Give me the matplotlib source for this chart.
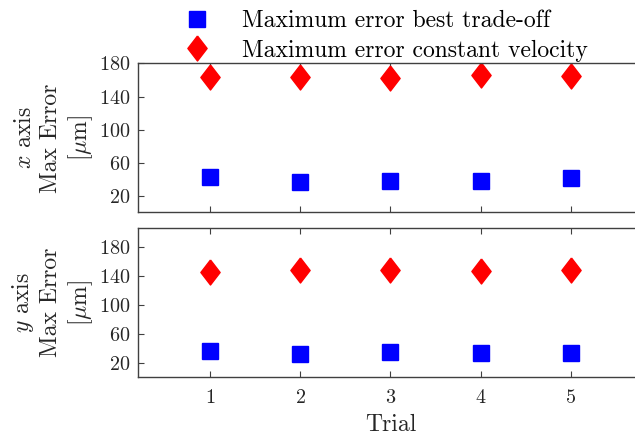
import numpy as np
import matplotlib
matplotlib.use("Agg")
import matplotlib.pyplot as plt

plt.rcParams['font.family'] = 'cmr10'
plt.rcParams['mathtext.fontset'] = 'cm'
plt.rcParams['axes.formatter.use_mathtext'] = True

trials = [1, 2, 3, 4, 5]
# maximum error per trial in micrometres
x_best = [43, 37, 38, 38, 41]
x_const = [164, 164, 162, 165.5, 164.5]
y_best = [36.5, 32, 34.5, 33, 33.5]
y_const = [146.5, 148, 149, 147, 149]

yticks = [20, 60, 100, 140, 180]
axcol = '#404040'

# MATLAB-like diamond, taller than wide
diamond = [(0, 1), (0.77, 0), (0, -1), (-0.77, 0), (0, 1)]

fig = plt.figure(figsize=(6.35, 4.37), dpi=100)
ax1 = fig.add_axes([0.2173, 0.514, 0.795, 0.3407])
ax2 = fig.add_axes([0.2173, 0.1373, 0.795, 0.341])

def style(ax, ylim, name):
    ax.set_xlim(0.2, 5.8)
    ax.set_ylim(*ylim)
    ax.set_xticks(trials)
    ax.set_yticks(yticks)
    ax.tick_params(direction='in', length=4, width=0.8, colors=axcol,
                   labelsize=14.5, top=True, right=False, labelcolor='#262626')
    ax.tick_params(axis='x', pad=8.5)
    ax.tick_params(axis='y', pad=5.5)
    for s in ax.spines.values():
        s.set_color(axcol)
        s.set_linewidth(1.0)
    ax.set_ylabel('$%s$ axis\nMax Error\n[$\\mu$m]' % name, fontsize=17,
                  color='#262626', linespacing=1.2)
    ax.yaxis.set_label_coords(-0.086, 0.5)

l1, = ax1.plot(trials, x_best, ls='none', marker='s', ms=12.2,
               color='blue', mec='blue')
l2, = ax1.plot(trials, x_const, ls='none', marker=diamond, ms=18,
               color='red', mec='red')
ax2.plot(trials, y_best, ls='none', marker='s', ms=12.2,
         color='blue', mec='blue')
ax2.plot(trials, y_const, ls='none', marker=diamond, ms=18,
         color='red', mec='red')

style(ax1, (0, 180), 'x')
style(ax2, (0, 207), 'y')
ax1.tick_params(labelbottom=False)
ax2.set_xlabel('Trial', fontsize=17, color='#262626', labelpad=5.0)

fig.legend([l1, l2], ['Maximum error best trade-off',
                      'Maximum error constant velocity'],
           loc='upper left', bbox_to_anchor=(0.239, 1.025), frameon=False,
           fontsize=17, handlelength=2, handletextpad=0.94, labelspacing=0.3)

fig.savefig('out.png', dpi=100)
